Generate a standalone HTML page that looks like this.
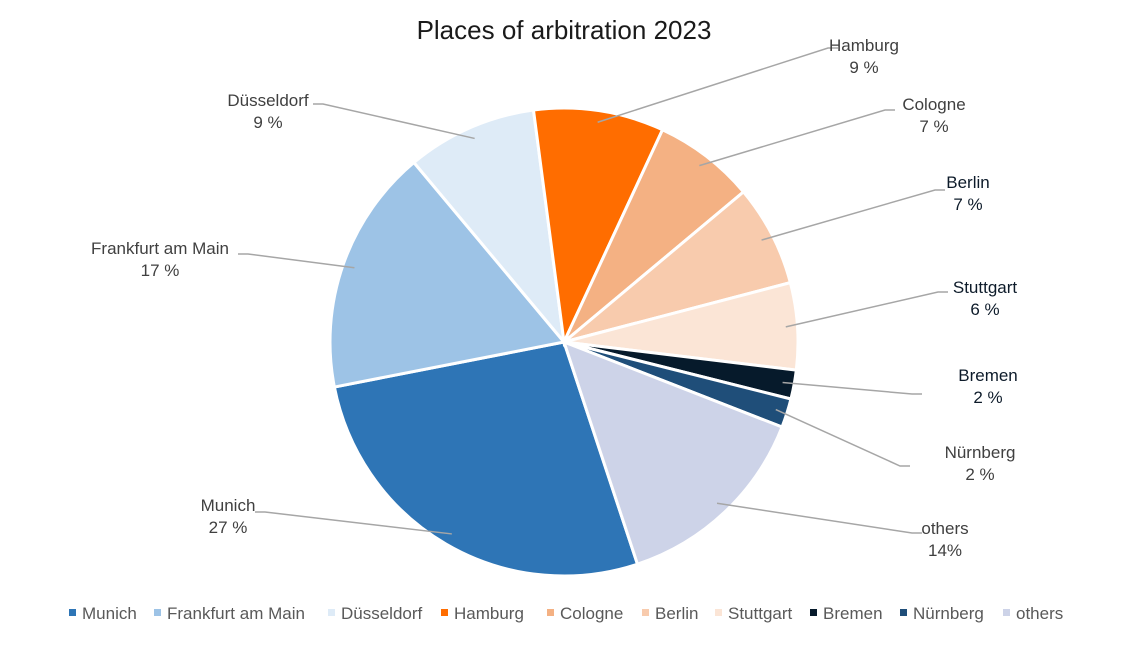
<!DOCTYPE html>
<html><head><meta charset="utf-8"><style>
body{margin:0;background:#fff;font-family:"Liberation Sans",sans-serif;}
svg text{font-family:"Liberation Sans",sans-serif;}
</style></head><body>
<svg id="chart" width="1129" height="641" viewBox="0 0 1129 641">
<text x="564" y="39" text-anchor="middle" font-size="26" fill="#1a1a1a">Places of arbitration 2023</text>
<g id="slices"></g><g id="leaders"></g><g id="labels"></g><g id="legend"></g>
</svg>
<script>
const categories=["Munich","Frankfurt am Main","Düsseldorf","Hamburg","Cologne","Berlin","Stuttgart","Bremen","Nürnberg","others"];
const values=[27,17,9,9,7,7,6,2,2,14];
const valueLabels=["27 %","17 %","9 %","9 %","7 %","7 %","6 %","2 %","2 %","14%"];
const colors=["#2E75B6","#9DC3E6","#DEEBF7","#FF6D00","#F4B183","#F8CBAD","#FBE5D6","#061A2B","#1F4E79","#CDD3E8"];
const labelPos=[[228,505],[160,248],[268,100],[864,45],[934,104],[968,182],[985,287],[988,375],[980,452],[945,528]];
const labelColor=["#404040","#404040","#404040","#404040","#404040","#0d1b2a","#0d1b2a","#0d1b2a","#404040","#404040"];
const leaderEnd=[[265,512],[248,254],[323,104],[828,48],[885,110],[935,190],[938,292],[912,394],[900,466],[912,533]];
const legendX=[72,157,331,444,550,645,718,813,903,1006];
const NS="http://www.w3.org/2000/svg";
const cx=564,cy=342,r=234,startDeg=161.7;
const total=values.reduce((a,b)=>a+b,0);
function pt(deg,rad){const a=deg*Math.PI/180;return [cx+rad*Math.sin(a),cy-rad*Math.cos(a)];}
let ang=startDeg;
const sg=document.getElementById('slices'),lg=document.getElementById('leaders'),tg=document.getElementById('labels'),gg=document.getElementById('legend');
values.forEach((v,i)=>{
  const sweep=v/total*360,a0=ang,a1=ang+sweep;ang=a1;
  const p0=pt(a0,r),p1=pt(a1,r);
  const p=document.createElementNS(NS,'path');
  p.setAttribute('d',`M${cx},${cy}L${p0[0]},${p0[1]}A${r},${r} 0 ${sweep>180?1:0} 1 ${p1[0]},${p1[1]}Z`);
  p.setAttribute('fill',colors[i]);p.setAttribute('stroke','#fff');p.setAttribute('stroke-width','3');
  
  
  sg.appendChild(p);
  const m=pt((a0+a1)/2,r*0.95),e=leaderEnd[i];
  const l=document.createElementNS(NS,'polyline');
  l.setAttribute('points',`${m[0]},${m[1]} ${e[0]},${e[1]} ${e[0]+(e[0]>cx?10:-10)},${e[1]}`);
  l.setAttribute('fill','none');l.setAttribute('stroke','#a6a6a6');l.setAttribute('stroke-width','1.5');
  
  
  lg.appendChild(l);
  [categories[i],valueLabels[i]].forEach((s,k)=>{
    const t=document.createElementNS(NS,'text');
    t.setAttribute('x',labelPos[i][0]);t.setAttribute('y',labelPos[i][1]+6+k*22);
    t.setAttribute('text-anchor','middle');t.setAttribute('font-size','17');t.setAttribute('fill',labelColor[i]);
    t.textContent=s;
    
    
    tg.appendChild(t);
  });
  const sq=document.createElementNS(NS,'rect');
  sq.setAttribute('x',legendX[i]-3);sq.setAttribute('y',609);sq.setAttribute('width',7);sq.setAttribute('height',7);sq.setAttribute('fill',colors[i]);
  
  
  gg.appendChild(sq);
  const lt=document.createElementNS(NS,'text');
  lt.setAttribute('x',legendX[i]+10);lt.setAttribute('y',619);lt.setAttribute('font-size','17');lt.setAttribute('fill','#595959');
  lt.textContent=categories[i];
  
  
  gg.appendChild(lt);
});
</script>
</body></html>
